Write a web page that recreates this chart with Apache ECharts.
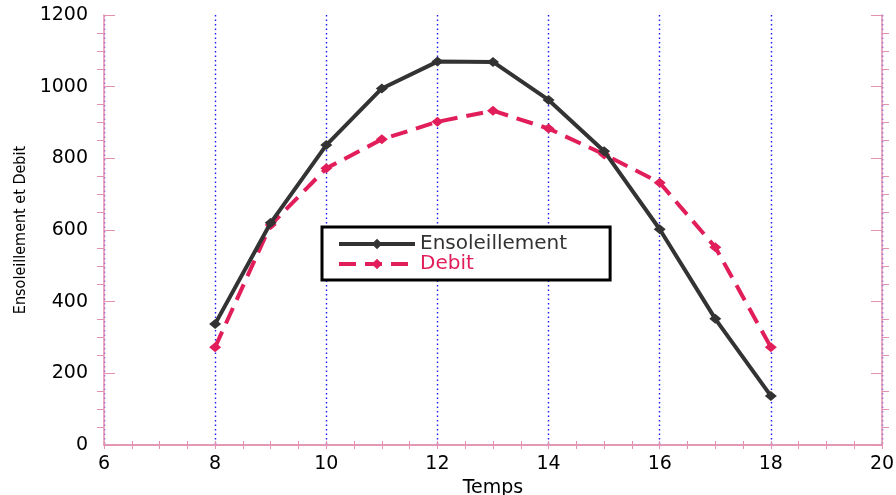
<!DOCTYPE html>
<html>
<head>
<meta charset="utf-8">
<script src="https://cdn.jsdelivr.net/npm/echarts@6/dist/echarts.min.js"></script>
<style>
html,body{margin:0;padding:0;background:#fff;}
#chart{width:896px;height:495px;}
</style>
</head>
<body>
<div id="chart"></div>
<script>
// Data
const temps = [8, 9, 10, 11, 12, 13, 14, 15, 16, 17, 18];
const ensoleillement = [338, 620, 837, 995, 1070, 1069, 963, 820, 602, 352, 137];
const debit = [273, 614, 772, 853, 902, 933, 883, 811, 732, 552, 273];
const seriesNames = ['Ensoleillement', 'Debit'];
const xAxisName = 'Temps';
const yAxisName = 'Ensoleillement et Debit';

const BLACK = '#333333';
const PINK = '#e21e5a';
const AXIS = '#e391b0';
const FONT = "'DejaVu Sans', sans-serif";

const chart = echarts.init(document.getElementById('chart'), null, {renderer: 'canvas'});

function pairs(xs, ys) { return xs.map((x, i) => [x, ys[i]]); }
const plain = v => String(v);

const baseX = {
  type: 'value', min: 6, max: 20, interval: 2,
  axisLine: {show: true, lineStyle: {color: AXIS, width: 1.5}},
  splitLine: {show: false},
  axisTick: {show: true, inside: true, length: 4, lineStyle: {color: AXIS}},
  minorTick: {show: true, splitNumber: 4, length: 4, lineStyle: {color: AXIS}},
  axisLabel: {show: false}
};
const baseY = {
  type: 'value', min: 0, max: 1200, interval: 200,
  axisLine: {show: true, lineStyle: {color: AXIS, width: 1.5}},
  splitLine: {show: false},
  axisLabel: {show: false}
};

const option = {
  backgroundColor: '#ffffff',
  animation: false,
  grid: {left: 104, right: 14, top: 15, bottom: 50, containLabel: false, outerBoundsMode: 'none'},
  legend: {
    orient: 'vertical',
    left: 322, top: 227,
    padding: [7, 43, 6, 15],
    itemGap: 0,
    itemWidth: 76, itemHeight: 13,
    borderColor: '#000', borderWidth: 3,
    backgroundColor: '#fff',
    lineStyle: {width: 4},
    textStyle: {fontFamily: FONT, fontSize: 20, lineHeight: 18},
    data: [
      {name: seriesNames[0], textStyle: {color: BLACK}},
      {name: seriesNames[1], textStyle: {color: PINK}}
    ]
  },
  xAxis: [
    Object.assign({}, baseX, {
      position: 'bottom',
      name: xAxisName, nameLocation: 'middle', nameGap: 29,
      nameTextStyle: {fontFamily: FONT, fontSize: 19, color: '#000'},
      splitLine: {show: true, lineStyle: {color: '#1a1aff', type: [1.5, 3], width: 1.4}},
      axisLabel: {show: true, fontFamily: FONT, fontSize: 19, color: '#000', margin: 10, formatter: plain}
    }),
    Object.assign({}, baseX, {position: 'top'})
  ],
  yAxis: [
    Object.assign({}, baseY, {
      position: 'left',
      name: yAxisName, nameLocation: 'middle', nameGap: 74, nameRotate: 90,
      nameTextStyle: {fontFamily: "'Liberation Sans Narrow', 'DejaVu Sans Condensed', sans-serif", fontSize: 16, color: '#000'},
      axisTick: {show: true, inside: true, length: 11, lineStyle: {color: AXIS}},
      axisLabel: {show: true, fontFamily: FONT, fontSize: 19, color: '#000', margin: 16, formatter: plain}
    }),
    Object.assign({}, baseY, {
      position: 'left',
      axisLine: {show: false},
      axisTick: {show: false, inside: false},
      minorTick: {show: true, splitNumber: 4, length: 7, lineStyle: {color: AXIS}}
    }),
    Object.assign({}, baseY, {
      position: 'right',
      axisTick: {show: true, inside: true, length: 11, lineStyle: {color: AXIS}}
    }),
    Object.assign({}, baseY, {
      position: 'right',
      axisLine: {show: false},
      axisTick: {show: false, inside: false},
      minorTick: {show: true, splitNumber: 4, length: 7, lineStyle: {color: AXIS}}
    })
  ],
  series: [
    {
      name: seriesNames[0], type: 'line', xAxisIndex: 0, yAxisIndex: 0,
      data: pairs(temps, ensoleillement),
      symbol: 'diamond', symbolSize: [12, 10],
      itemStyle: {color: BLACK},
      lineStyle: {color: BLACK, width: 4},
      z: 3
    },
    {
      name: seriesNames[1], type: 'line', xAxisIndex: 0, yAxisIndex: 0,
      data: pairs(temps, debit),
      symbol: 'diamond', symbolSize: [12, 10],
      itemStyle: {color: PINK},
      lineStyle: {color: PINK, width: 4, type: [17, 9]},
      z: 2
    }
  ]
};
chart.setOption(option);
</script>
</body>
</html>
